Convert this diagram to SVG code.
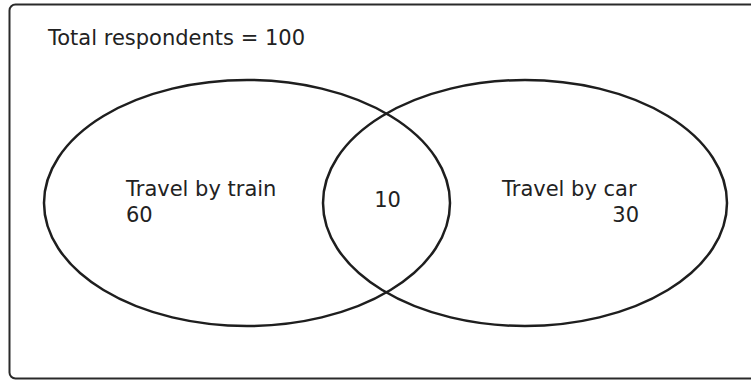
<svg xmlns="http://www.w3.org/2000/svg" width="751" height="380" viewBox="0 0 751 380">
<style>
.frame{fill:#fff;stroke:#2a2a2a;stroke-width:2}
.set{fill:none;stroke:#1e1e1e;stroke-width:2.5}
text{font-family:"DejaVu Sans","Liberation Sans",sans-serif;font-size:21px;fill:#222}
</style>
<rect width="751" height="380" fill="#fff"/>
<g id="frame">
<rect class="frame" x="9.5" y="4.5" width="760" height="374" rx="6"/>
<text x="48" y="45">Total respondents = 100</text>
</g>
<g id="connectors"></g>
<g id="train">
<ellipse class="set" cx="247" cy="203" rx="203" ry="123"/>
<text x="126" y="196">Travel by train</text>
<text x="126" y="222">60</text>
</g>
<g id="car">
<ellipse class="set" cx="525" cy="203" rx="202" ry="123"/>
<text x="502" y="196">Travel by car</text>
<text x="639" y="222" text-anchor="end">30</text>
</g>
<g id="both">
<text x="387.5" y="207" text-anchor="middle">10</text>
</g>
</svg>
